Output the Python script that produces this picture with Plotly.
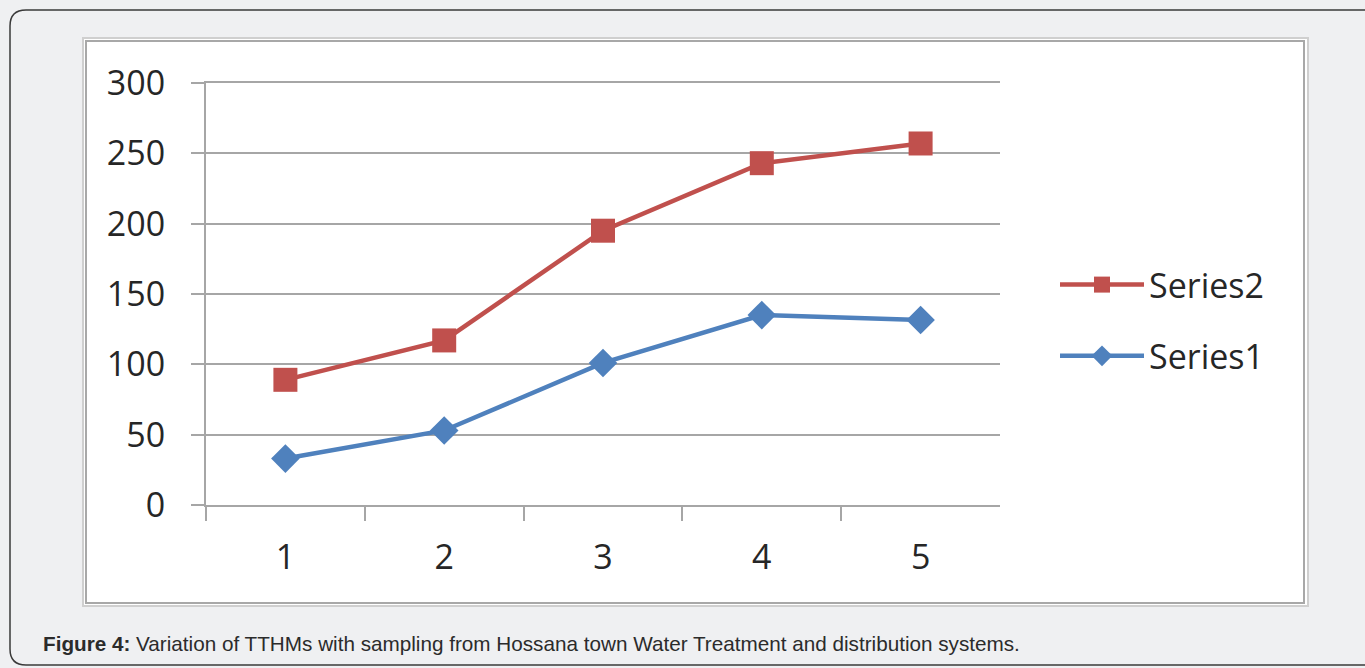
import plotly.graph_objects as go

# Sampling points and TTHM values
samples = ["1", "2", "3", "4", "5"]
series1 = [33, 53, 101, 135, 131.5]
series2 = [89, 117, 195, 243, 257]
y_ticks = [0, 50, 100, 150, 200, 250, 300]

W, H = 1365, 668
BLUE = "#4F81BD"
RED = "#C0504D"
GRID = "#a6a6a6"
FONT = "Open Sans"
TEXT = "#262626"


def px(x):
    return x / W


def py(y):
    return 1 - y / H


fig = go.Figure()

fig.add_trace(go.Scatter(
    x=samples, y=series1, name="Series1", mode="lines+markers",
    line=dict(color=BLUE, width=4.5),
    marker=dict(symbol="diamond", size=22, color=BLUE),
    legendgroup="s1", legendrank=2,
))
fig.add_trace(go.Scatter(
    x=samples, y=series2, name="Series2", mode="lines+markers",
    line=dict(color=RED, width=4.5),
    marker=dict(symbol="square", size=24, color=RED),
    legendgroup="s2", legendrank=1,
))

shapes = []
# rounded outer panel border (right edge runs off the page)
r = 16
x0, y0, y1, x1 = 10, 10, 665, 1400
path = (
    f"M{px(x1)},{py(y0)} L{px(x0 + r)},{py(y0)} "
    f"Q{px(x0)},{py(y0)} {px(x0)},{py(y0 + r)} "
    f"L{px(x0)},{py(y1 - r)} "
    f"Q{px(x0)},{py(y1)} {px(x0 + r)},{py(y1)} "
    f"L{px(x1)},{py(y1)}"
)
shapes.append(dict(type="path", xref="paper", yref="paper", path=path,
                   line=dict(color="#3a3a3a", width=1.5), layer="below"))
# white chart box with double frame
shapes.append(dict(type="rect", xref="paper", yref="paper",
                   x0=px(83), x1=px(1308), y0=py(606), y1=py(38),
                   fillcolor="white", line=dict(color="#cfcfcf", width=2),
                   layer="below"))
shapes.append(dict(type="rect", xref="paper", yref="paper",
                   x0=px(86), x1=px(1304), y0=py(603), y1=py(41),
                   fillcolor="rgba(0,0,0,0)", line=dict(color="#a8a8a8", width=2),
                   layer="below"))

fig.update_layout(
    width=W, height=H, autosize=False,
    margin=dict(l=0, r=0, t=0, b=0, pad=0),
    paper_bgcolor="#eff0f2",
    plot_bgcolor="rgba(0,0,0,0)",
    shapes=shapes,
    font=dict(family=FONT, color=TEXT),
    showlegend=True,
    legend=dict(
        x=px(1055), y=py(256), xanchor="left", yanchor="top",
        traceorder="grouped", tracegroupgap=24,
        font=dict(family=FONT, size=34, color=TEXT),
        bgcolor="rgba(0,0,0,0)", itemwidth=84,
    ),
    xaxis=dict(
        domain=[px(206), px(1000)],
        type="category", tickson="boundaries", range=[-0.5, 4.5],
        ticks="outside", ticklen=14, tickwidth=2, tickcolor=GRID,
        showgrid=False, zeroline=False,
        # bottom line doubles as the 0 gridline, mirror as the 300 gridline
        showline=True, mirror=True, linecolor=GRID, linewidth=2,
        tickfont=dict(family=FONT, size=34, color=TEXT),
        ticklabelstandoff=21, automargin=False,
    ),
    yaxis=dict(
        domain=[py(505), py(83)],
        range=[0, 300], tickvals=y_ticks,
        ticks="outside", ticklen=13, tickwidth=2, tickcolor=GRID,
        showgrid=True, gridcolor=GRID, gridwidth=2,
        showline=True, linecolor=GRID, linewidth=2,
        zeroline=False,
        tickfont=dict(family=FONT, size=34, color=TEXT),
        ticklabelstandoff=19, automargin=False,
    ),
    annotations=[dict(
        xref="paper", yref="paper", x=px(41), y=py(643),
        xanchor="left", yanchor="middle", showarrow=False,
        text="<b>Figure 4:</b> Variation of TTHMs with sampling from Hossana town Water Treatment and distribution systems.",
        font=dict(family="Liberation Sans", size=20.7, color="#2b2b2b"),
    )],
)

fig.write_html("out.html")
